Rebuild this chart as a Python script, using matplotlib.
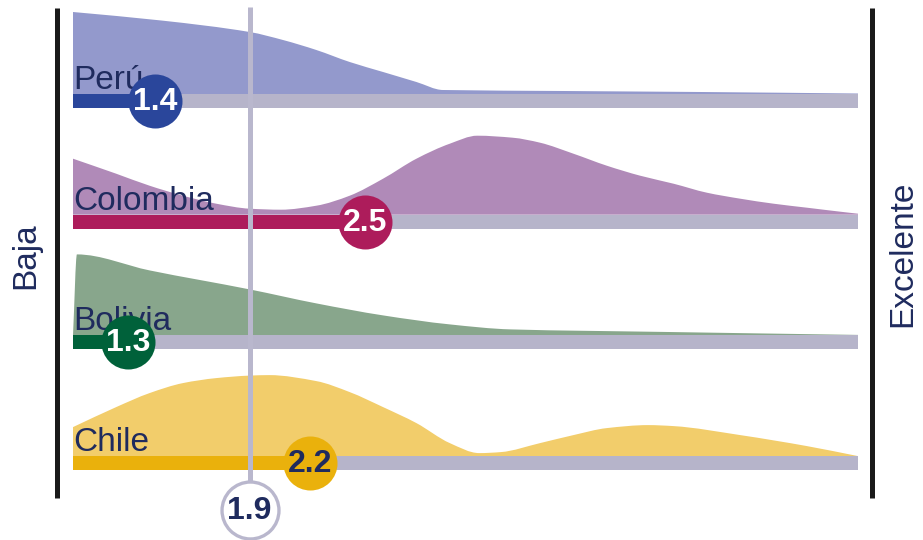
import matplotlib.pyplot as plt
import numpy as np
from matplotlib.path import Path
from matplotlib.patches import PathPatch

plt.rcParams['font.family'] = ['Liberation Sans', 'DejaVu Sans']

paises = ['Perú', 'Colombia', 'Bolivia', 'Chile']
promedios = [1.42, 2.49, 1.28, 2.21]
promedio_general = 1.90

# density profiles (score on 1-5 scale, relative height)
peru_x = [1.0, 1.45, 1.9, 2.07, 2.24, 2.41, 2.58, 2.75, 2.885, 3.5, 4.2, 5.0]
peru_h = [82, 73.5, 62, 54, 44, 32, 22, 12, 4, 3, 2, 0.5]
colombia_x = [1.0, 1.22, 1.39, 1.56, 1.73, 1.9, 2.06, 2.24, 2.41, 2.58, 2.75, 2.92,
              3.06, 3.24, 3.38, 3.55, 3.72, 3.89, 4.06, 4.23, 4.4, 4.57, 4.74, 4.91, 5.0]
colombia_h = [56, 41, 29, 19, 11, 6, 5, 9, 19, 36, 56, 71,
              79, 77, 72, 61, 49, 39, 31, 22, 16, 11, 7, 3, 1]
bolivia_x = [1.0, 1.02, 1.39, 1.9, 2.24, 2.58, 2.92, 3.23, 4.0, 5.0]
bolivia_h = [0, 81, 65, 46, 32, 20, 11, 6, 3.5, 0.5]
chile_x = [1.0, 1.22, 1.39, 1.56, 1.73, 1.9, 2.0, 2.24, 2.41, 2.58, 2.75, 2.92,
           3.07, 3.18, 3.38, 3.55, 3.72, 3.93, 4.06, 4.4, 4.74, 5.0]
chile_h = [29, 49, 63, 73, 78, 80.5, 81, 75, 64, 49, 33, 13,
           3, 4, 13, 21, 28, 31, 30, 21, 10, 0]

densidades = [(peru_x, peru_h), (colombia_x, colombia_h),
              (bolivia_x, bolivia_h), (chile_x, chile_h)]

color_area = ['#9399cc', '#b08ab8', '#88a68c', '#f2cd6b']
color_barra = ['#2a469b', '#ad1c5b', '#00613a', '#eab10c']
color_num = ['white', 'white', 'white', '#1f2b5e']
navy = '#1f2b5e'
gris = '#b6b4ca'
linea = '#b9b7cd'


def area_suave(x, y, base):
    # monotone cubic (like d3 curveMonotoneX) drawn as bezier segments
    x = np.asarray(x, float)
    y = np.asarray(y, float)
    d = np.diff(y) / np.diff(x)
    m = np.zeros_like(y)
    m[0], m[-1] = d[0], d[-1]
    for k in range(1, len(y) - 1):
        if d[k - 1] * d[k] > 0:
            m[k] = 2 / (1 / d[k - 1] + 1 / d[k])
    verts = [(x[0], base), (x[0], y[0])]
    codes = [Path.MOVETO, Path.LINETO]
    for k in range(len(x) - 1):
        h = (x[k + 1] - x[k]) / 3
        verts += [(x[k] + h, y[k] + m[k] * h), (x[k + 1] - h, y[k + 1] - m[k + 1] * h),
                  (x[k + 1], y[k + 1])]
        codes += [Path.CURVE4] * 3
    verts += [(x[-1], base), (x[0], base)]
    codes += [Path.LINETO, Path.CLOSEPOLY]
    return Path(verts, codes)


fig = plt.figure(figsize=(9.23, 5.40), dpi=100)
ax = fig.add_axes([0, 0, 1, 1])
px = 196.25  # pixels per score unit
ax.set_xlim(1 - 73 / px, 1 + 850 / px)
ax.set_ylim(540, 0)
ax.axis('off')

bar_h = 14
for i, pais in enumerate(paises):
    top = 94 + 120.7 * i
    cy = top + bar_h / 2
    dx, dh = densidades[i]
    ax.add_patch(PathPatch(area_suave(dx, top - np.array(dh), top),
                           facecolor=color_area[i], lw=0, zorder=1))
    ax.barh(cy, 4, left=1, height=bar_h, color=gris, zorder=2)
    ax.barh(cy, promedios[i] - 1, left=1, height=bar_h, color=color_barra[i], zorder=3)
    ax.text(1.0, top - 5, pais, fontsize=24, color=navy, va='baseline', ha='left', zorder=4)
    ax.scatter(promedios[i], cy, s=1512, color=color_barra[i], lw=0, zorder=6)
    ax.text(promedios[i], cy + 1, f'{promedios[i]:.1f}', fontsize=23, fontweight='bold',
            color=color_num[i], ha='center', va='center', zorder=7)

# average line
ax.vlines(promedio_general, 7, 482, color=linea, lw=3.6, zorder=5)
ax.scatter(promedio_general, 510, s=1681, color='white', edgecolor=linea, lw=2.4,
           zorder=6, clip_on=False)
ax.text(promedio_general, 511, f'{promedio_general:.1f}', fontsize=23, fontweight='bold',
        color=navy, ha='center', va='center', zorder=7)

# frame lines
ax.vlines([1 - 16 / px, 1 + 799 / px], 8, 498, color='#1a1a1a', lw=3.6, zorder=5)

ax.text(1 - 47 / px, 256, 'Baja', rotation=90, fontsize=24, color=navy,
        ha='center', va='center')
ax.text(1 + 830 / px, 254, 'Excelente', rotation=90, fontsize=24, color=navy,
        ha='center', va='center')

fig.savefig('out.png', dpi=100)
